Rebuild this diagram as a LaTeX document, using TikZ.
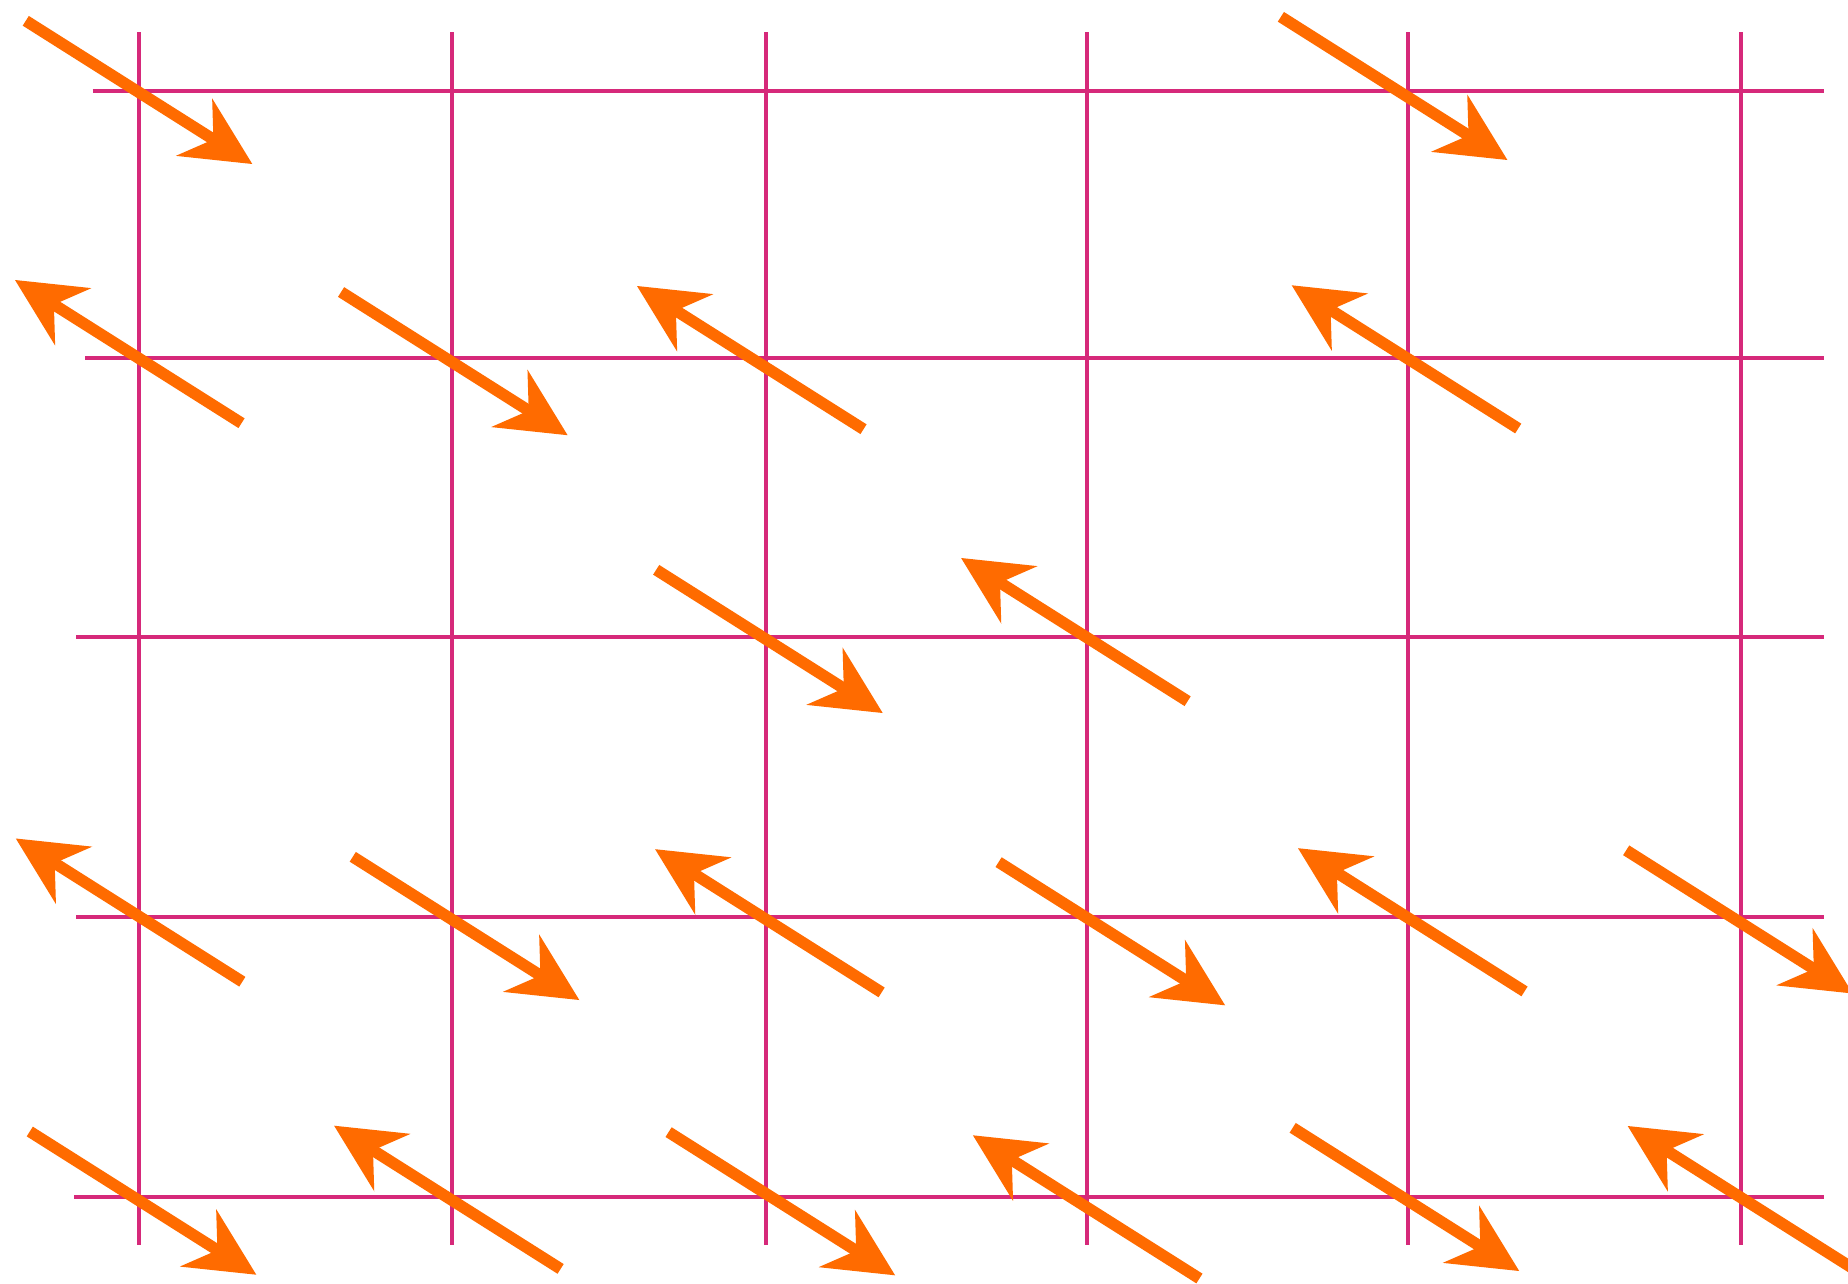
\documentclass[tikz,border=0pt]{standalone}
\usepackage{tikz}
\definecolor{gridmag}{RGB}{214,41,122}
\definecolor{spinorange}{RGB}{255,107,0}
\tikzset{
  gridline/.style={draw=gridmag, line width=4.8pt},
  spinline/.style={draw=spinorange, line width=11.5pt, line cap=butt},
  spinhead/.style={fill=spinorange},
  spin/.pic={
    \draw[spinline] (-268,0) -- (-30,0);
    \fill[spinhead] (0,0) -- (-69,34) -- (-46,0) -- (-69,-34) -- cycle;
  },
  dr/.style={rotate=-32.3},
  ul/.style={rotate=147.7}
}
\begin{document}
\begin{tikzpicture}[x=1pt,y=-1pt]
\useasboundingbox (0,0) rectangle (1848,1283);
\clip (0,0) rectangle (1848,1283);
\fill[white] (0,0) rectangle (1848,1283);
% vertical grid lines
\foreach \gx in {139,452,766,1087,1408,1741}
  \draw[gridline] (\gx,32) -- (\gx,1245);
% horizontal grid lines
\draw[gridline] (92.5,91) -- (1824,91);
\draw[gridline] (85,358) -- (1824,358);
\draw[gridline] (76,637) -- (1824,637);
\draw[gridline] (76,917) -- (1824,917);
\draw[gridline] (74,1197) -- (1824,1197);
% row 1
\pic[dr] at (252.3,164) {spin};
\pic[dr] at (1507.4,160) {spin};
% row 2
\pic[ul] at (15,280) {spin};
\pic[dr] at (567.6,435.2) {spin};
\pic[ul] at (637,286) {spin};
\pic[ul] at (1291.7,285.3) {spin};
% row 3
\pic[dr] at (882.7,713) {spin};
\pic[ul] at (961.1,558) {spin};
% row 4
\pic[ul] at (15.8,838.5) {spin};
\pic[dr] at (579.3,1000) {spin};
\pic[ul] at (655.1,849.2) {spin};
\pic[dr] at (1225.1,1005.3) {spin};
\pic[ul] at (1298,848.2) {spin};
\pic[dr] at (1852.7,993.5) {spin};
% row 5
\pic[dr] at (256.3,1274.7) {spin};
\pic[ul] at (334.1,1125.7) {spin};
\pic[dr] at (895.1,1275.3) {spin};
\pic[ul] at (972.9,1135.3) {spin};
\pic[dr] at (1519.2,1271) {spin};
\pic[ul] at (1627.7,1126) {spin};
\end{tikzpicture}
\end{document}
